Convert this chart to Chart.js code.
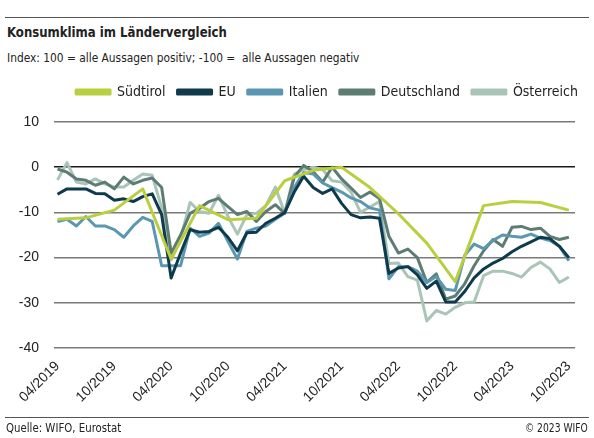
<!DOCTYPE html>
<html>
<head>
<meta charset="utf-8">
<script src="https://cdn.jsdelivr.net/npm/chart.js@4.4.0/dist/chart.umd.min.js"></script>
<style>
  body { margin: 0; width: 594px; height: 438px; background: #fff; position: relative; overflow: hidden; color: #222;
         font-family: "DejaVu Sans Condensed", "Liberation Sans", sans-serif; }
  .rule { position: absolute; left: 5px; width: 584px; height: 1px; background: #555; }
  .txt { position: absolute; white-space: nowrap; line-height: 1; }
  #title { left: 7px; top: 25px; font-size: 14.5px; font-weight: bold; transform-origin: left center; }
  #sub { left: 7px; top: 52px; font-size: 12.5px; transform-origin: left center; }
  #src { left: 6px; top: 422px; font-size: 12.5px; transform-origin: left center; }
  #copy { right: 6px; top: 422px; font-size: 12.5px; transform-origin: right center; }
  #wrap { position: absolute; left: 0; top: 0; width: 594px; height: 438px; }
</style>
</head>
<body>
<div class="rule" style="top:17px"></div>
<div class="txt" id="title">Konsumklima im Ländervergleich</div>
<div class="txt" id="sub">Index: 100 = alle Aussagen positiv; -100 =&nbsp; alle Aussagen negativ</div>
<div id="wrap"><canvas id="chart"></canvas></div>
<div class="rule" style="top:417px"></div>
<div class="txt" id="src">Quelle: WIFO, Eurostat</div>
<div class="txt" id="copy">© 2023 WIFO</div>
<script>
// Monate 04/2019 bis 10/2023
const months = [
  '04/2019','05/2019','06/2019','07/2019','08/2019','09/2019','10/2019','11/2019','12/2019',
  '01/2020','02/2020','03/2020','04/2020','05/2020','06/2020','07/2020','08/2020','09/2020','10/2020','11/2020','12/2020',
  '01/2021','02/2021','03/2021','04/2021','05/2021','06/2021','07/2021','08/2021','09/2021','10/2021','11/2021','12/2021',
  '01/2022','02/2022','03/2022','04/2022','05/2022','06/2022','07/2022','08/2022','09/2022','10/2022','11/2022','12/2022',
  '01/2023','02/2023','03/2023','04/2023','05/2023','06/2023','07/2023','08/2023','09/2023','10/2023'
];
const tickLabels = ['04/2019','10/2019','04/2020','10/2020','04/2021','10/2021','04/2022','10/2022','04/2023','10/2023'];

// Südtirol nur quartalsweise
const suedtirol = [
  -11.5, null, null, -11.2, null, null, -9.5, null, null,
  -4.8, null, null, -20.3, null, null, -8.5, null, null, -11.6, null, null,
  -11.3, null, null, -3.0, null, null, -0.7, null, null, 0.0, null, null,
  -4.5, null, null, -10.3, null, null, -16.8, null, null, -25.3, null, null,
  -8.5, null, null, -7.6, null, null, -7.8, null, null, -9.5
];
const eu = [
  -6.0, -4.8, -4.8, -4.8, -5.8, -5.9, -7.3, -7.0, -7.6,
  -6.5, -5.9, -10.5, -24.5, -19.0, -13.8, -14.4, -14.2, -13.3, -15.5, -18.5, -14.5,
  -14.4, -12.4, -11.3, -10.0, -5.5, -2.0, -4.5, -5.8, -4.8, -8.0, -10.5, -11.2,
  -11.0, -11.3, -23.5, -22.3, -22.0, -23.8, -26.8, -25.2, -29.8, -29.8, -27.5, -24.5,
  -22.5, -21.2, -20.2, -18.7, -17.5, -16.5, -15.5, -15.8, -17.5, -20.0
];
const italien = [
  -12.0, -11.5, -13.0, -10.9, -13.0, -13.0, -13.8, -15.5, -13.0,
  -11.1, -12.0, -21.8, -21.8, -21.8, -13.5, -15.3, -14.6, -12.4, -16.4, -20.3, -14.2,
  -13.5, -13.0, -11.5, -10.2, -4.5, -1.2, -1.5, -3.5, -4.5, -5.5, -6.8, -7.6,
  -9.0, -9.5, -24.7, -22.0, -22.0, -23.0, -25.5, -24.2, -27.0, -27.3, -19.5, -17.0,
  -18.0, -16.2, -15.0, -15.3, -15.5, -14.8, -15.7, -16.2, -17.5, -20.7
];
const deutschland = [
  -0.4, -1.1, -2.6, -2.9, -4.0, -3.3, -4.8, -2.2, -3.7,
  -2.9, -2.4, -4.5, -19.0, -15.0, -10.2, -9.1, -7.6, -6.9, -8.7, -10.5, -9.8,
  -12.0, -9.8, -8.3, -10.2, -2.2, 0.4, -1.0, -3.3, 0.0, -2.6, -4.6, -6.7,
  -5.5, -6.9, -15.3, -19.0, -18.1, -20.0, -25.5, -23.6, -29.2, -28.5, -25.8, -21.8,
  -18.5, -16.0, -17.5, -13.3, -13.1, -13.8, -13.5, -15.3, -16.0, -15.5
];
const oesterreich = [
  -2.8, 1.0, -3.3, -3.7, -2.6, -3.7, -4.4, -4.4, -2.9,
  -1.5, -1.8, -9.0, -20.5, -15.7, -7.8, -9.8, -10.2, -6.2, -10.9, -14.8, -10.5,
  -10.2, -8.5, -4.4, -10.2, -1.5, -0.5, 0.0, -0.5, -3.0, -3.3, -5.5, -10.0,
  -8.8, -7.6, -21.3, -21.2, -24.2, -25.0, -34.0, -31.7, -32.5, -31.0, -30.0, -29.8,
  -24.0, -23.0, -23.0, -23.5, -24.3, -22.2, -21.0, -22.5, -25.5, -24.3
];

const seriesNames = ['Südtirol', 'EU', 'Italien', 'Deutschland', 'Österreich'];
const seriesData = [suedtirol, eu, italien, deutschland, oesterreich];
const seriesColors = ['#b9cf3f', '#0f3a4b', '#5b97b1', '#5d7c73', '#abc4b8'];

// Texte auf die Breite im Original bringen (schmale Schrift)
function squeeze(id, w) {
  const el = document.getElementById(id);
  el.style.transform = 'scaleX(' + (w / el.offsetWidth) + ')';
}
squeeze('title', 220);
squeeze('sub', 352);
squeeze('src', 115);
squeeze('copy', 63);

const tickPos = tickLabels.map(l => months.indexOf(l));

const datasets = seriesNames.map((name, k) => ({
  label: name,
  data: months.map((m, i) => ({ x: i, y: seriesData[k][i] })),
  borderColor: seriesColors[k],
  backgroundColor: seriesColors[k],
  borderWidth: 3,
  pointRadius: 0,
  tension: 0,
  spanGaps: true,
  borderJoinStyle: 'round'
}));

const tickFont = { family: '"Liberation Sans", Arial, sans-serif', size: 14 };

// Legende etwas tiefer absetzen und nach rechts schieben
const legendTweak = {
  id: 'legendTweak',
  beforeLayout(chart) {
    const lg = chart.legend;
    if (!lg || lg._patched) return;
    const fit = lg.fit;
    lg.fit = function () { fit.call(this); this.height += 13; };
    lg._patched = true;
  },
  afterLayout(chart) {
    const lg = chart.legend;
    if (lg) { lg.left += 15; lg.right += 15; }
  }
};

new Chart(document.getElementById('chart'), {
  type: 'line',
  data: { datasets },
  plugins: [legendTweak],
  options: {
    responsive: true,
    maintainAspectRatio: false,
    animation: false,
    layout: { padding: { top: 73, right: 19, bottom: 20, left: 0 } },
    plugins: {
      tooltip: { enabled: false },
      legend: {
        position: 'top',
        align: 'end',
        labels: {
          boxWidth: 34,
          boxHeight: 4,
          padding: 12,
          color: '#222',
          font: { family: '"DejaVu Sans Condensed", "Liberation Sans", sans-serif', size: 14 }
        }
      }
    },
    scales: {
      x: {
        type: 'linear',
        min: -0.37,
        max: 54.65,
        afterBuildTicks: s => { s.ticks = tickPos.map(v => ({ value: v })); },
        afterFit: s => { s.height = 70; },
        border: { display: false },
        grid: { display: false },
        ticks: {
          autoSkip: false,
          minRotation: 45,
          maxRotation: 45,
          padding: 2,
          color: '#222',
          font: tickFont,
          callback: v => months[v]
        }
      },
      y: {
        min: -40,
        max: 10,
        afterFit: s => { s.width = 54; },
        border: { display: false },
        grid: {
          drawTicks: false,
          lineWidth: 1.5,
          color: c => (c.tick && c.tick.value === 0) ? '#1b1b1b' : '#7a7a7a'
        },
        ticks: {
          stepSize: 10,
          padding: 15,
          color: '#222',
          font: tickFont
        }
      }
    }
  }
});
</script>
</body>
</html>
